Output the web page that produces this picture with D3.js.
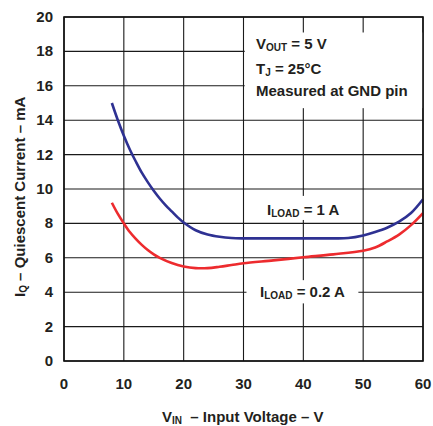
<!DOCTYPE html>
<html>
<head>
<meta charset="utf-8">
<script src="https://cdn.jsdelivr.net/npm/d3@7"></script>
<style>
  body { margin: 0; background: #fff; }
  text { font-family: "Liberation Sans", Arial, sans-serif; font-weight: bold; fill: #231f20; }
</style>
</head>
<body>
<div id="chart"></div>
<script>
// series
let vin1A = [8, 9, 10, 11, 12, 13, 14, 15, 16, 17, 18, 19, 20, 22, 24, 26, 28, 30, 35, 40, 45, 47.5, 50, 52, 54, 56, 58, 60]
let iq1A = [15.0, 14.0, 13.1, 12.3, 11.6, 10.95, 10.4, 9.9, 9.45, 9.05, 8.7, 8.35, 8.05, 7.6, 7.35, 7.22, 7.15, 7.13, 7.13, 7.13, 7.13, 7.15, 7.3, 7.5, 7.75, 8.1, 8.6, 9.4]

let vin02A = [8, 9, 10, 11, 12, 13, 14, 15, 16, 18, 20, 22, 24, 26, 28, 30, 35, 40, 45, 50, 52, 54, 56, 58, 60]
let iq02A = [9.2, 8.55, 8.0, 7.5, 7.1, 6.75, 6.45, 6.2, 6.0, 5.7, 5.5, 5.4, 5.4, 5.48, 5.58, 5.68, 5.85, 6.03, 6.2, 6.41, 6.6, 6.95, 7.35, 7.9, 8.6]

let xTicks = [0, 10, 20, 30, 40, 50, 60]
let yTicks = [0, 2, 4, 6, 8, 10, 12, 14, 16, 18, 20]

let margin = {left: 64, right: 10, top: 17, bottom: 65}
let width = 433 - margin.left - margin.right
let height = 426 - margin.top - margin.bottom

let svg = d3.select('#chart').append('svg')
  .attr('width', 433)
  .attr('height', 426)

let g = svg.append('g')
  .attr('transform', 'translate(' + margin.left + ',' + margin.top + ')')

let x = d3.scaleLinear().domain([0, 60]).range([0, width])
let y = d3.scaleLinear().domain([0, 20]).range([height, 0])

// grid
g.selectAll('.vgrid').data(xTicks).enter().append('line')
  .attr('x1', d => x(d)).attr('x2', d => x(d))
  .attr('y1', 0).attr('y2', height)
  .attr('stroke', '#1a1a1a').attr('stroke-width', 1.1)

g.selectAll('.hgrid').data(yTicks).enter().append('line')
  .attr('y1', d => y(d)).attr('y2', d => y(d))
  .attr('x1', 0).attr('x2', width)
  .attr('stroke', '#1a1a1a').attr('stroke-width', 1.1)

// white boxes behind labels
let boxes = [
  {x0: 30.2, x1: 60, y0: 19.1, y1: 14.7},
  {x0: 31.5, x1: 48, y0: 9.6, y1: 8.2},
  {x0: 30.5, x1: 49.2, y0: 4.7, y1: 3.35}
]
g.selectAll('.box').data(boxes).enter().append('rect')
  .attr('x', d => x(d.x0)).attr('y', d => y(d.y0))
  .attr('width', d => x(d.x1) - x(d.x0))
  .attr('height', d => y(d.y1) - y(d.y0))
  .attr('fill', '#fff')

// curves
let line = d3.line()
  .x(d => x(d[0]))
  .y(d => y(d[1]))
  .curve(d3.curveCatmullRom)

g.append('path')
  .attr('d', line(d3.zip(vin1A, iq1A)))
  .attr('fill', 'none').attr('stroke', '#2e3192').attr('stroke-width', 2.6)

g.append('path')
  .attr('d', line(d3.zip(vin02A, iq02A)))
  .attr('fill', 'none').attr('stroke', '#ed2b2e').attr('stroke-width', 2.6)

// frame
g.append('rect')
  .attr('width', width).attr('height', height)
  .attr('fill', 'none').attr('stroke', '#111').attr('stroke-width', 1.6)

// tick labels
g.selectAll('.xl').data(xTicks).enter().append('text')
  .attr('x', d => x(d)).attr('y', height + 28)
  .attr('text-anchor', 'middle').attr('font-size', '15px')
  .text(d => d)

g.selectAll('.yl').data(yTicks).enter().append('text')
  .attr('x', -11).attr('y', d => y(d) + 5)
  .attr('text-anchor', 'end').attr('font-size', '15px')
  .text(d => d)

// text with subscripts
function subText(sel, parts, size) {
  parts.forEach(p => {
    let t = sel.append('tspan').text(p[0])
    if (p[1]) t.attr('font-size', '10px').attr('dy', 2)
    else if (p[2]) t.attr('dy', -2)
  })
}

let note = svg.append('g').attr('font-size', '15px')
subText(note.append('text').attr('x', 256).attr('y', 49), [['V'], ['OUT', 1], [' = 5 V', 0, 1]])
subText(note.append('text').attr('x', 256).attr('y', 74), [['T'], ['J', 1], [' = 25°C', 0, 1]])
note.append('text').attr('x', 256).attr('y', 96).text('Measured at GND pin')

subText(svg.append('text').attr('x', 267).attr('y', 215).attr('font-size', '15px'),
  [['I'], ['LOAD', 1], [' = 1 A', 0, 1]])
subText(svg.append('text').attr('x', 260).attr('y', 297).attr('font-size', '15px'),
  [['I'], ['LOAD', 1], [' = 0.2 A', 0, 1]])

// axis titles
subText(svg.append('text').attr('x', 162).attr('y', 422).attr('font-size', '15px'),
  [['V'], ['IN', 1], ['\u00a0 – Input Voltage – V', 0, 1]])

subText(svg.append('text')
  .attr('transform', 'translate(25,297) rotate(-90)')
  .attr('font-size', '15px'),
  [['I'], ['Q', 1], [' – Quiescent Current – mA', 0, 1]])
</script>
</body>
</html>
